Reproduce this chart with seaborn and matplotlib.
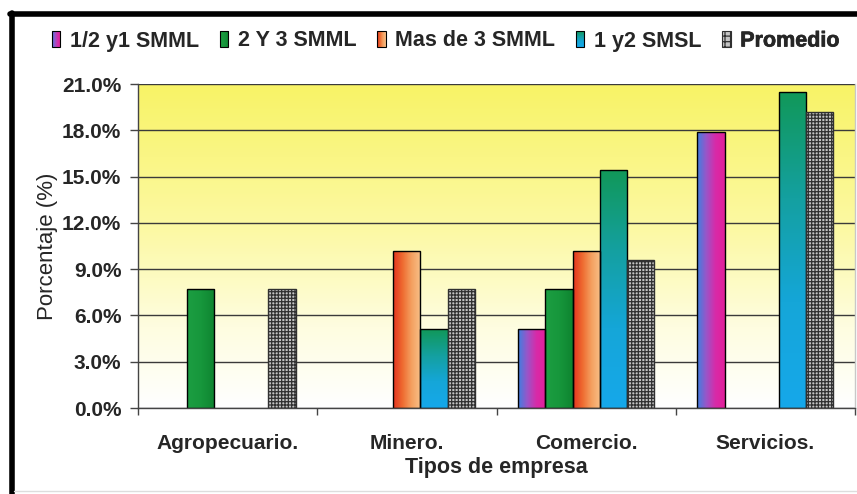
import numpy as np
import pandas as pd
import matplotlib
matplotlib.use("Agg")
import matplotlib.pyplot as plt
import matplotlib.patheffects as pe
import seaborn as sns
from matplotlib.colors import LinearSegmentedColormap
from matplotlib.patches import Rectangle
from matplotlib.lines import Line2D
from matplotlib.legend_handler import HandlerBase
from matplotlib.image import BboxImage
from matplotlib.transforms import Bbox, TransformedBbox

# ---- data ----
categorias = ["Agropecuario.", "Minero.", "Comercio.", "Servicios."]
series = ["1/2 y1 SMML", "2 Y 3 SMML", "Mas de 3 SMML", "1 y2 SMSL", "Promedio"]
medio_a_uno = [np.nan, np.nan, 5.1, 17.9]
dos_a_tres = [7.7, np.nan, 7.7, np.nan]
mas_de_tres = [np.nan, 10.2, 10.2, np.nan]
uno_a_dos_smsl = [np.nan, 5.1, 15.4, 20.5]
promedio = [7.7, 7.7, 9.6, 19.2]
y_ticks = [0, 3, 6, 9, 12, 15, 18, 21]

valores = [medio_a_uno, dos_a_tres, mas_de_tres, uno_a_dos_smsl, promedio]
rows = []
for s, vals in zip(series, valores):
    for c, v in zip(categorias, vals):
        if not np.isnan(v):
            rows.append({"Tipo": c, "Serie": s, "Valor": v})
df = pd.DataFrame(rows)

# gradient fills for each series: (colour stops, direction)
gradientes = {
    "1/2 y1 SMML": (["#3f7fe0", "#9a55c8", "#d82aa8", "#e2209a"], "h"),
    "2 Y 3 SMML": (["#1c9e42", "#17973c", "#0e8430"], "h"),
    "Mas de 3 SMML": (["#e43420", "#ee6a30", "#f4a060", "#f8c088"], "h"),
    "1 y2 SMSL": (["#16a8ea", "#15a6d8", "#14a0a0", "#11985a"], "v"),
}
solidos = {"1/2 y1 SMML": "#9a55c8", "2 Y 3 SMML": "#17973c",
           "Mas de 3 SMML": "#ee7a40", "1 y2 SMSL": "#14a0a8",
           "Promedio": "#c8c8c8"}
TXT = "#262626"


def grad_array(stops, direction, n=64):
    cmap = LinearSegmentedColormap.from_list("g", stops)
    t = cmap(np.linspace(0, 1, n))
    if direction == "h":
        return t[np.newaxis, :, :]
    return t[:, np.newaxis, :]


sns.set_theme(style="white")
plt.rcParams["font.family"] = ["Liberation Sans", "DejaVu Sans"]
plt.rcParams["hatch.linewidth"] = 0.9

fig = plt.figure(figsize=(8.57, 4.94), dpi=100)
fig.patch.set_facecolor("white")
ax = fig.add_axes([138 / 857, 1 - 408 / 494, 717 / 857, 324 / 494])

sns.barplot(data=df, x="Tipo", y="Valor", hue="Serie", order=categorias,
            hue_order=series, palette=solidos, width=0.76, dodge=True,
            edgecolor="black", linewidth=1.0, saturation=1, ax=ax,
            legend=False, errorbar=None)

# plot background: yellow fading to white towards the bottom
bg_cmap = LinearSegmentedColormap.from_list(
    "bg", [(0, "#ffffff"), (0.25, "#fefde0"), (0.55, "#fcf9a4"), (1, "#f8f366")])
ax.imshow(np.linspace(0, 1, 256)[:, None], cmap=bg_cmap, aspect="auto",
          origin="lower", extent=[-0.5, 3.5, 0, 21], zorder=0)

for serie, cont in zip(series, ax.containers):
    for bar in cont:
        h = bar.get_height()
        if not np.isfinite(h) or h == 0:
            continue
        bar.set_zorder(2)
        if serie == "Promedio":
            bar.set_facecolor("#c4c4c4")
            bar.set_edgecolor("#303030")
            bar.set_hatch("+++++")
            continue
        stops, d = gradientes[serie]
        x0, w = bar.get_x(), bar.get_width()
        im = ax.imshow(grad_array(stops, d), aspect="auto", origin="lower",
                       extent=[x0, x0 + w, 0, h], zorder=1.5,
                       interpolation="bilinear")
        im.set_clip_path(bar)
        bar.set_facecolor("none")

ax.set_xlim(-0.5, 3.5)
ax.set_ylim(0, 21)
ax.set_yticks(y_ticks)
ax.set_yticklabels([f"{v:.1f}%" for v in y_ticks])
ax.set_axisbelow(True)
ax.yaxis.grid(True, color="#3a3a3a", linewidth=1.0)
ax.xaxis.grid(False)

ax.set_xticks(range(len(categorias)))
ax.set_xticklabels(categorias)
ax.set_xticks(np.arange(-0.5, 4, 1), minor=True)
ax.tick_params(axis="x", which="major", length=0, pad=19, labelsize=15,
               labelcolor=TXT)
ax.tick_params(axis="x", which="minor", length=5, width=1, color="#444444",
               direction="out", bottom=True)
ax.tick_params(axis="y", which="major", length=6, width=1, color="#444444",
               direction="out", left=True, labelsize=15, labelcolor=TXT,
               pad=6)
for lab in ax.get_xticklabels() + ax.get_yticklabels():
    lab.set_fontweight("bold")

for side in ["left", "bottom"]:
    ax.spines[side].set_color("#444444")
    ax.spines[side].set_linewidth(1.0)
ax.spines["top"].set_visible(False)
ax.spines["right"].set_color("#c8c8c8")
ax.spines["right"].set_linewidth(1.0)

ax.set_xlabel("Tipos de empresa", fontsize=15.5, fontweight="bold", color=TXT)
ax.set_ylabel("Porcentaje (%)", fontsize=16, color=TXT)
ax.xaxis.set_label_coords(0.5, -0.152)
ax.yaxis.set_label_coords(-0.111, 0.5)


# legend keys drawn with the same gradient fills
class GradHandler(HandlerBase):
    def __init__(self, serie):
        super().__init__()
        self.serie = serie

    def create_artists(self, legend, orig_handle, xdescent, ydescent,
                       width, height, fontsize, trans):
        arts = []
        if self.serie in gradientes:
            stops, d = gradientes[self.serie]
            bb = TransformedBbox(Bbox.from_bounds(-xdescent, -ydescent,
                                                  width, height), trans)
            img = BboxImage(bb, interpolation="bilinear")
            img.set_data(grad_array(stops, d)[::-1] if d == "v"
                         else grad_array(stops, d))
            arts.append(img)
            rect = Rectangle((-xdescent, -ydescent), width, height,
                             facecolor="none", edgecolor="black",
                             linewidth=0.8, transform=trans)
        else:
            rect = Rectangle((-xdescent, -ydescent), width, height,
                             facecolor="#c4c4c4", edgecolor="#303030",
                             hatch="+++", linewidth=0.8, transform=trans)
        arts.append(rect)
        return arts


handles = [Rectangle((0, 0), 1, 1) for _ in series]
leg = fig.legend(handles, series, loc="center", ncol=5,
                 bbox_to_anchor=(0.5 + 17 / 857, 1 - 41 / 494), frameon=False,
                 handler_map={h: GradHandler(s) for h, s in zip(handles, series)},
                 handlelength=0.4, handleheight=0.75, handletextpad=0.45,
                 columnspacing=0.95, prop={"size": 15.5, "weight": "bold"})
for t in leg.get_texts():
    t.set_color(TXT)
leg.get_texts()[-1].set_path_effects(
    [pe.withStroke(linewidth=0.5, foreground=TXT)])

# outer frame of the chart
fig.add_artist(Line2D([12 / 857, 12 / 857], [0, 1 - 13 / 494],
                      transform=fig.transFigure, color="black", linewidth=4))
fig.add_artist(Line2D([10 / 857, 1], [1 - 14 / 494, 1 - 14 / 494],
                      transform=fig.transFigure, color="black", linewidth=4))
fig.add_artist(Line2D([14 / 857, 1], [3 / 494, 3 / 494],
                      transform=fig.transFigure, color="#dddddd", linewidth=1))

fig.savefig("out.png", dpi=100)
